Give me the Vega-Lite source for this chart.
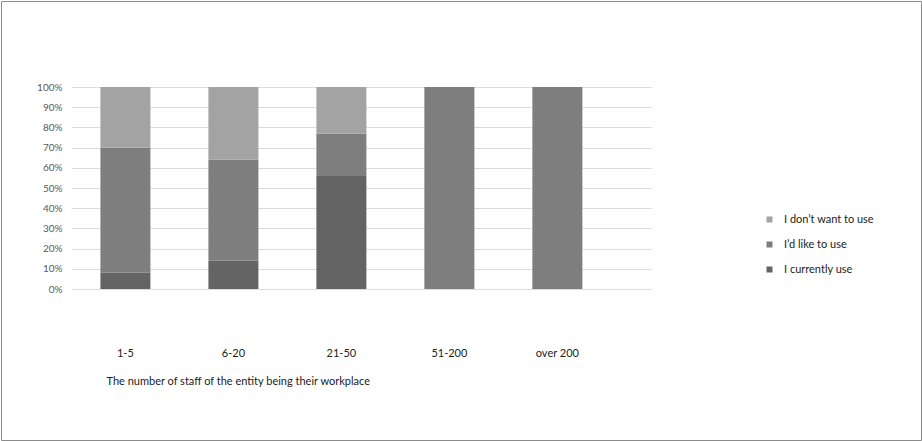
{
  "$schema": "https://vega.github.io/schema/vega-lite/v6.json",
  "width": 920,
  "height": 439,
  "autosize": {"type": "none"},
  "padding": 1,
  "background": "white",
  "data": {
    "values": [
      {"size": "1-5", "response": "I currently use", "pct": 8},
      {"size": "1-5", "response": "I’d like to use", "pct": 62},
      {"size": "1-5", "response": "I don’t want to use", "pct": 30},
      {"size": "6-20", "response": "I currently use", "pct": 14},
      {"size": "6-20", "response": "I’d like to use", "pct": 50},
      {"size": "6-20", "response": "I don’t want to use", "pct": 36},
      {"size": "21-50", "response": "I currently use", "pct": 56},
      {"size": "21-50", "response": "I’d like to use", "pct": 21},
      {"size": "21-50", "response": "I don’t want to use", "pct": 23},
      {"size": "51-200", "response": "I currently use", "pct": 0},
      {"size": "51-200", "response": "I’d like to use", "pct": 100},
      {"size": "51-200", "response": "I don’t want to use", "pct": 0},
      {"size": "over 200", "response": "I currently use", "pct": 0},
      {"size": "over 200", "response": "I’d like to use", "pct": 100},
      {"size": "over 200", "response": "I don’t want to use", "pct": 0}
    ]
  },
  "transform": [
    {"calculate": "datum.response === 'I currently use' ? 0 : (datum.response === 'I’d like to use' ? 1 : 2)", "as": "stackOrder"}
  ],
  "mark": {"type": "bar"},
  "encoding": {
    "x": {
      "field": "size",
      "type": "nominal",
      "sort": ["1-5", "6-20", "21-50", "51-200", "over 200"],
      "scale": {"range": [70, 650], "paddingInner": 0.537, "paddingOuter": 0.454, "align": 0.3},
      "axis": {
        "orient": "bottom",
        "offset": -149,
        "domain": false,
        "ticks": false,
        "grid": false,
        "labelAngle": 0,
        "labelPadding": 56,
        "labelFont": "Lato",
        "labelFontSize": 11,
        "labelColor": "#222222",
        "title": "The number of staff of the entity being their workplace",
        "titleFont": "Lato",
        "titleFontSize": 11,
        "titleFontWeight": "normal",
        "titleColor": "#222222",
        "titleAnchor": "start",
        "titleAlign": "left",
        "titleX": 105,
        "titleY": 84,
        "titleBaseline": "top"
      }
    },
    "y": {
      "field": "pct",
      "type": "quantitative",
      "stack": "zero",
      "scale": {"domain": [0, 100], "range": [288, 86], "nice": false},
      "axis": {
        "orient": "left",
        "offset": -70,
        "values": [0, 10, 20, 30, 40, 50, 60, 70, 80, 90, 100],
        "labelExpr": "datum.value + '%'",
        "domain": false,
        "ticks": false,
        "labelPadding": 9,
        "labelFont": "Lato",
        "labelFontSize": 10,
        "labelColor": "#595959",
        "grid": true,
        "gridColor": "#dcdcdc",
        "title": null
      }
    },
    "order": {"field": "stackOrder", "type": "quantitative", "sort": "ascending"},
    "color": {
      "field": "response",
      "type": "nominal",
      "scale": {
        "domain": ["I currently use", "I’d like to use", "I don’t want to use"],
        "range": ["#646464", "#7e7e7e", "#a3a3a3"]
      },
      "legend": {
        "orient": "none",
        "legendX": 763,
        "legendY": 213,
        "title": null,
        "values": ["I don’t want to use", "I’d like to use", "I currently use"],
        "symbolType": "square",
        "symbolSize": 36,
        "symbolStrokeWidth": 0,
        "rowPadding": 13,
        "labelFont": "Lato",
        "labelFontSize": 11,
        "labelColor": "#222222",
        "labelOffset": 9
      }
    }
  },
  "config": {
    "view": {"stroke": "#8c8c8c", "strokeWidth": 1}
  }
}
